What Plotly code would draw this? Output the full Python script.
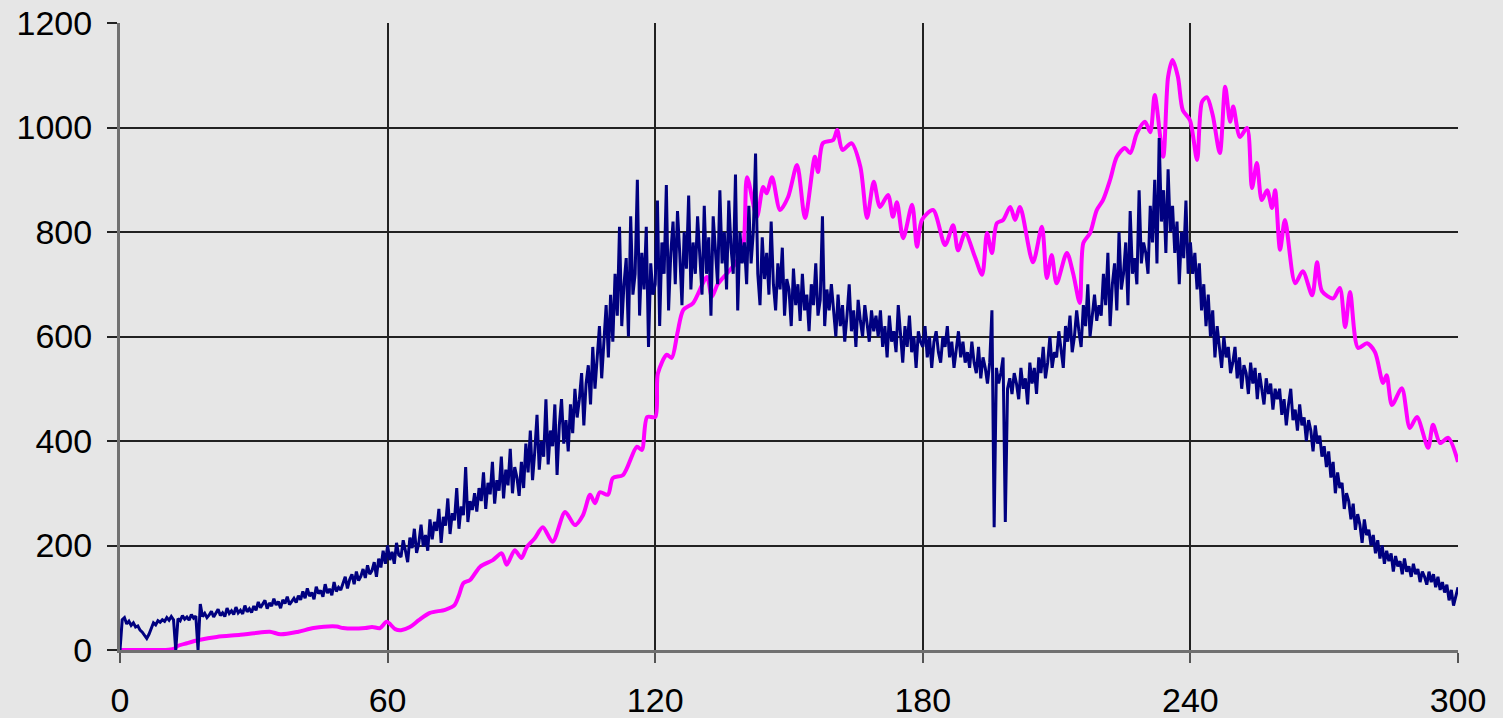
import plotly.graph_objects as go

# ---------------- data ----------------
# navy series: sampled every 0.5 units from x=0 to x=300
navy_step = 0.5
navy_y = [
    0, 58, 62, 50, 55, 47, 52, 44, 46, 38, 34, 28, 22, 30, 42, 52, 48, 56, 53, 58,
    55, 62, 57, 64, 58, 0, 60, 56, 66, 59, 63, 57, 68, 61, 65, 0, 88, 64, 70, 62,
    67, 74, 63, 72, 78, 66, 71, 64, 80, 70, 75, 68, 82, 71, 76, 69, 85, 73, 79, 72,
    84, 76, 92, 81, 88, 95, 79, 90, 84, 98, 86, 93, 80, 96, 89, 102, 87, 94, 99, 91,
    104, 96, 112, 99, 118, 103, 110, 97, 121, 108, 114, 102, 126, 109, 117, 105, 130, 112, 120, 115,
    128, 140, 118, 135, 145, 126, 150, 133, 141, 155, 138, 162, 145, 152, 168, 140, 175, 158, 190, 165,
    200, 172, 188, 165, 205, 182, 178, 210, 190, 168, 215, 195, 232, 186, 205, 240, 198, 220, 190, 250,
    212, 245, 228, 270, 205, 255, 238, 290, 222, 262, 248, 310, 232, 275, 258, 350, 245, 285, 268, 300,
    265, 310, 285, 340, 270, 320, 298, 360, 280, 325, 305, 370, 290, 345, 315, 385, 300, 350, 330, 295,
    360, 310, 395, 340, 420, 325, 380, 450, 345, 400, 370, 480, 355, 420, 390, 470, 335, 430, 480, 395,
    440, 380, 470, 415, 500, 445, 480, 530, 430, 510, 545, 470, 580, 500, 560, 620, 520, 600, 660, 560,
    680, 590, 720, 640, 810, 620, 700, 750, 600, 830, 680, 720, 900, 640, 760, 690, 810, 580, 740, 680,
    700, 860, 620, 780, 720, 890, 650, 760, 820, 700, 840, 760, 660, 800, 730, 870, 690, 780, 720, 830,
    760, 680, 850, 720, 790, 640, 830, 760, 700, 880, 740, 800, 690, 860, 770, 720, 910, 650, 800, 740,
    780, 700, 850, 740, 800, 950, 720, 660, 790, 710, 760, 680, 820, 700, 650, 740, 690, 770, 640, 710,
    690, 620, 730, 660, 700, 630, 720, 650, 680, 610, 700, 660, 740, 640, 670, 830, 620, 690, 650, 700,
    650, 600, 680, 620, 660, 590, 640, 700, 610, 650, 580, 670, 630, 600, 660, 620, 590, 650, 610, 640,
    600, 650, 580, 620, 560, 640, 590, 610, 570, 660, 600, 550, 620, 580, 640, 570, 600, 540, 610, 590,
    580, 620, 560, 600, 540, 590, 610, 570, 550, 600, 580, 620, 560, 590, 540, 580, 610, 560, 590, 550,
    570, 540, 590, 550, 530, 580, 520, 560, 540, 510, 550, 650, 235, 540, 510, 530, 560, 245, 500, 520,
    490, 530, 510, 480, 540, 500, 520, 470, 550, 510, 540, 490, 560, 530, 580, 520, 550, 600, 540, 570,
    560, 610, 580, 540, 620, 590, 640, 570, 600, 650, 610, 580, 660, 620, 700, 600, 640, 680, 630, 660,
    640, 720, 660, 760, 620, 700, 740, 650, 800, 690, 720, 780, 660, 840, 720, 750, 700, 880, 740, 780,
    760, 720, 850, 780, 900, 740, 980, 820, 880, 760, 920, 800, 850, 760, 820, 700, 800, 750, 860, 720,
    780, 720, 760, 690, 740, 650, 700, 620, 680, 600, 650, 560, 620, 580, 540, 600, 560, 580, 530, 550,
    580, 520, 560, 500, 545, 530, 490, 550, 510, 540, 480, 530, 500, 470, 520, 490, 510, 460, 500, 480,
    500, 450, 480, 430, 470, 500, 440, 460, 420, 470, 430, 445, 400, 440, 420, 380, 430, 395, 410, 370,
    390, 350, 380, 330, 360, 300, 340, 310, 320, 270, 300, 285, 250, 280, 230, 260, 240, 205, 250, 220,
    230, 200, 220, 185, 210, 175, 200, 165, 190, 170, 185, 150, 180, 160, 170, 145, 175, 150, 160, 140,
    165, 145, 155, 130, 150, 140, 125, 150, 130, 145, 120, 140, 115, 130, 110, 125, 95, 115, 85, 105,
    120,
]
navy_x = [i * navy_step for i in range(len(navy_y))]

# magenta series: smooth curve, read at its turning points
magenta_x = [
    0, 5, 10, 12, 13, 15, 17.7, 21.7, 27, 30, 33.6, 36, 40, 43.4, 48.6, 50, 55, 56.5, 58.3, 59.8,
    61.7, 63, 65, 67, 69.5, 72.9, 75, 76, 77, 78.5, 80.7, 83.6, 85.6, 86.7, 88.5, 90, 91.2, 93, 94.8, 97,
    99.8, 102, 103.8, 105.4, 106.5, 107.6, 109.4, 110.5, 112.8, 115.9, 117, 118.2, 120, 120.6, 122.6, 123.7,
    125, 126.3, 128.5, 131.6, 132.7, 134, 136, 138, 139.7, 140.6, 142.8, 144.2, 145, 146.2, 148, 149.8,
    151.8, 153.6, 155.8, 156.5, 157.6, 159.9, 160.8, 162, 164, 166, 167.5, 169, 170.4, 172.2, 173.3, 174.2,
    175.6, 177.6, 178.7, 179.8, 182.3, 185, 186.8, 187.9, 189.5, 191.7, 193.3, 194.4, 195.5, 196.6, 198,
    199.6, 200.7, 201.8, 204.7, 206.7, 207.8, 208.9, 210, 212.3, 213.7, 215.2, 216, 217.5, 219, 220.4, 222,
    223.5, 225.3, 226.5, 228, 229.8, 231, 232, 233.9, 235, 236, 237.2, 238.3, 239.9, 241.5, 242.6, 243.7,
    245, 246.6, 247.8, 248.9, 249.6, 251.1, 252.7, 253.8, 254.9, 256, 257.2, 258.3, 259, 260.1, 261.2,
    263.5, 265.2, 267.3, 268.4, 269.5, 272, 273.5, 274.7, 275.8, 277.6, 279.6, 281.4, 283.2, 284, 285.2,
    287.4, 289.2, 290.8, 293.3, 294.4, 296, 297.8, 300,
]
magenta_y = [
    0, 0, 0, 2, 8, 13, 19, 25, 29, 32, 35, 30, 35, 42, 45, 42, 42, 44, 42, 54,
    40, 38, 44, 57, 71, 77, 86, 105, 128, 134, 159, 172, 185, 163, 191, 176, 197, 214, 235, 207,
    264, 239, 258, 297, 281, 302, 297, 329, 335, 389, 383, 446, 446, 529, 565, 559,
    607, 651, 664, 714, 676, 700, 720, 740, 771, 905, 829, 886, 874, 905, 842, 867,
    928, 827, 944, 915, 970, 976, 995, 957, 970, 925, 827, 896, 848, 871, 829, 857,
    788, 852, 772, 823, 842, 775, 813, 765, 798, 752, 718, 798, 760, 817, 823,
    848, 823, 848, 742, 810, 712, 756, 702, 760, 721, 664, 779, 798, 842, 861, 900,
    944, 961, 951, 989, 1011, 991, 1062, 944, 1097, 1129, 1097, 1033, 1014, 938, 1049, 1058,
    1024, 951, 1078, 1011, 1040, 982, 999, 884, 932, 861, 880, 846, 880, 766, 823,
    702, 725, 679, 742, 687, 673, 693, 618, 685, 578, 587, 570, 511, 526, 469,
    501, 425, 446, 387, 431, 396, 406, 360,
]

x_ticks = [0, 60, 120, 180, 240, 300]
y_ticks = [0, 200, 400, 600, 800, 1000, 1200]

# ---------------- figure ----------------
fig = go.Figure()
fig.add_trace(go.Scatter(
    x=magenta_x, y=magenta_y, mode="lines",
    line=dict(color="#ff00ff", width=4, shape="spline", smoothing=0.8),
    hoverinfo="skip", showlegend=False,
))
fig.add_trace(go.Scatter(
    x=navy_x, y=navy_y, mode="lines",
    line=dict(color="#000080", width=3),
    hoverinfo="skip", showlegend=False,
))

font = dict(family="Liberation Sans, Arial, sans-serif", size=34, color="black")
BG = "#e6e6e6"

fig.update_layout(
    width=1503, height=718,
    margin=dict(l=120, r=45, t=23, b=68, autoexpand=False),
    paper_bgcolor=BG,
    plot_bgcolor=BG,
    font=font,
    showlegend=False,
)
fig.update_xaxes(
    range=[0, 300], tickvals=x_ticks, ticktext=[str(v) for v in x_ticks],
    showgrid=True, gridcolor="#222222", gridwidth=1.5,
    showline=True, linecolor="#707070", linewidth=3,
    ticks="outside", ticklen=10, tickcolor="#555555", tickwidth=1.5,
    ticklabelstandoff=8, zeroline=False, tickfont=font, automargin=False,
)
fig.update_yaxes(
    range=[0, 1200], tickvals=y_ticks, ticktext=[str(v) for v in y_ticks],
    showgrid=True, gridcolor="#222222", gridwidth=1.5,
    showline=True, linecolor="#707070", linewidth=3,
    ticks="outside", ticklen=10, tickcolor="#222222", tickwidth=1.5,
    ticklabelstandoff=8, zeroline=False, tickfont=font, automargin=False,
)

fig.write_html(
    "out.html",
    config={"displayModeBar": False},
    post_script="document.body.style.margin='0';document.body.style.overflow='hidden';"
                "document.body.style.background='" + BG + "';",
)
